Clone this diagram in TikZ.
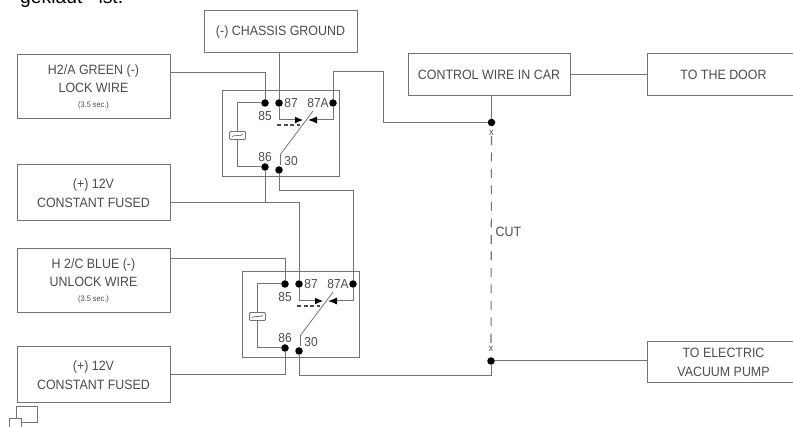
\documentclass[tikz,border=0pt]{standalone}
\usepackage{fontspec}
\setmainfont[FakeStretch=0.92]{Liberation Sans}
\newfontfamily\topfont{Liberation Sans}
\usetikzlibrary{arrows.meta}
\definecolor{wire}{gray}{0.45}
\definecolor{lbl}{gray}{0.3}
\tikzset{
  boxnode/.style={draw=wire, line width=1pt, fill=white, minimum width=153pt, inner sep=0pt, align=center, text=lbl, font=\fontsize{13.5}{19}\selectfont},
  dotnode/.style={circle, fill=black, minimum size=7.5pt, inner sep=0pt},
  pinlabel/.style={text=lbl, inner sep=0pt, font=\fontsize{13}{13}\selectfont},
  wireline/.style={draw=wire, line width=1pt}
}
\begin{document}
\begin{tikzpicture}[x=1pt, y=-1pt]
    \useasboundingbox (0,0) rectangle (793,427);
    \clip (0,0) rectangle (793,427);

    \node[inner sep=0pt, anchor=base west, font=\fontsize{19.3}{19}\topfont] (topline) at (20,3.5) {geklaut\ \ \ ist.};

    % boxes
    \node[boxnode, minimum height=64pt] (lockbox) at (93.5,87) {H2/A GREEN (-)\\[-0.5pt]LOCK WIRE\\[-4pt]{\fontsize{8}{8}\selectfont (3.5 sec.)}};
    \node[boxnode, minimum height=42pt] (groundbox) at (280.5,32) {(-) CHASSIS GROUND};
    \node[boxnode, minimum height=56pt] (fusedboxa) at (93.5,193) {(+) 12V\\CONSTANT FUSED};
    \node[boxnode, minimum height=64pt] (unlockbox) at (93.5,281) {H 2/C BLUE (-)\\[-0.5pt]UNLOCK WIRE\\[-4pt]{\fontsize{8}{8}\selectfont (3.5 sec.)}};
    \node[boxnode, minimum height=56pt] (fusedboxb) at (93.5,375) {(+) 12V\\CONSTANT FUSED};
    \node[boxnode, minimum width=162pt, minimum height=42pt] (carbox) at (489,75) {CONTROL WIRE IN CAR};
    \node[boxnode, minimum height=42pt] (doorbox) at (723.5,75) {TO THE DOOR};
    \node[boxnode, minimum height=41pt] (pumpbox) at (723.5,362.5) {TO ELECTRIC\\VACUUM PUMP};

    % the two relays
    \foreach \r/\dx/\dy in {a/0/0, b/20/181} {
      \draw[wireline] (222+\dx,91+\dy) rectangle (339+\dx,177+\dy);
      \node[dotnode] (p85\r) at (265+\dx,103+\dy) {};
      \node[dotnode] (p87\r) at (279+\dx,103+\dy) {};
      \node[dotnode] (pA\r) at (333+\dx,103+\dy) {};
      \node[dotnode] (p86\r) at (265+\dx,167+\dy) {};
      \node[dotnode] (p30\r) at (279+\dx,170+\dy) {};
      \node[pinlabel] (l85\r) at (265+\dx,116+\dy) {85};
      \node[pinlabel] (l87\r) at (291+\dx,103+\dy) {87};
      \node[pinlabel] (lA\r) at (318+\dx,103+\dy) {87A};
      \node[pinlabel] (l86\r) at (265+\dx,157+\dy) {86};
      \node[pinlabel] (l30\r) at (291+\dx,161+\dy) {30};
      % coil
      \coordinate (cl\r) at (237+\dx,103+\dy);
      \coordinate (cb\r) at (237+\dx,167+\dy);
      \draw[wireline] (p85\r) -- (cl\r) -- (cb\r) -- (p86\r);
      \node[draw=wire, fill=white, line width=0.8pt, rounded corners=1pt, minimum width=16pt, minimum height=8pt, inner sep=0pt] (coil\r) at (237.5+\dx,135.5+\dy) {};
      \draw[wire, line width=0.6pt] (232+\dx,137+\dy) .. controls (235+\dx,133+\dy) and (240+\dx,138+\dy) .. (243+\dx,134+\dy);
      % switch
      \coordinate (nc\r) at (303+\dx,120+\dy);
      \coordinate (no\r) at (308+\dx,120+\dy);
      \draw[wireline, -{Latex[length=8pt,width=7pt,black]}] (p87\r) |- (nc\r);
      \draw[wireline, -{Latex[length=9pt,width=7pt,black]}] (pA\r) |- (no\r);
      \draw[wire, line width=0.8pt] (280+\dx,155+\dy) -- (313+\dx,111+\dy);
      \draw[wire, line width=0.8pt] (280+\dx,155+\dy) -- (280+\dx,165+\dy);
      \draw[black!70, line width=1.1pt, dash pattern=on 4pt off 2.5pt] (277+\dx,125+\dy) -- (300+\dx,125+\dy);
    }

    % wires
    \coordinate (lockout) at (170,73);
    \coordinate (fusedout) at (170,203);
    \coordinate (unlockout) at (170,259);
    \node[dotnode] (cuttop) at (491.5,122.5) {};
    \node[dotnode] (cutbot) at (491,361) {};
    \coordinate (carout) at (491.5,96);
    \coordinate (uptop) at (333,72);
    \coordinate (upturn) at (383,72);
    \coordinate (linka) at (279,191);
    \coordinate (linkb) at (353,191);
    \coordinate (fusedtap) at (265,203);
    \coordinate (fusedturn) at (299,203);
    \coordinate (botturn) at (491,376);

    \draw[wireline] (lockout) -| (p85a);
    \draw[wireline] (groundbox.south -| p87a) -- (p87a);
    \draw[wireline] (pAa) -- (uptop) -- (upturn) |- (cuttop);
    \draw[wireline] (carout) -- (cuttop);
    \draw[wireline] (carbox) -- (doorbox);
    \draw[wireline] (fusedout) -- (fusedturn) -- (p87b);
    \draw[wireline] (p86a) -- (fusedtap);
    \draw[wireline] (p30a) -- (linka) -- (linkb) -- (pAb);
    \draw[wireline] (unlockout) -| (p85b);
    \draw[wireline] (p86b) |- (fusedboxb.east);
    \draw[wireline] (p30b) |- (botturn) -- (cutbot);
    \draw[wireline] (cutbot) -- (pumpbox.west |- cutbot);

    % the cut
    \node[text=lbl, inner sep=0pt, font=\fontsize{10}{10}\selectfont] (xtop) at (491.5,133) {x};
    \node[text=lbl, inner sep=0pt, font=\fontsize{10}{10}\selectfont] (xbot) at (491,349) {x};
    \draw[wire, line width=1.1pt, dash pattern=on 9pt off 7.5pt] (xtop) -- (xbot);
    \node[pinlabel, anchor=west, font=\fontsize{13.5}{13.5}\selectfont] (cutlabel) at (495.5,232) {CUT};

    % icon
    \draw[wire, line width=1pt] (16,407) rectangle (37,423);
    \draw[wire, fill=white, line width=1pt] (9.5,419) rectangle (21.5,432);
\end{tikzpicture}
\end{document}
